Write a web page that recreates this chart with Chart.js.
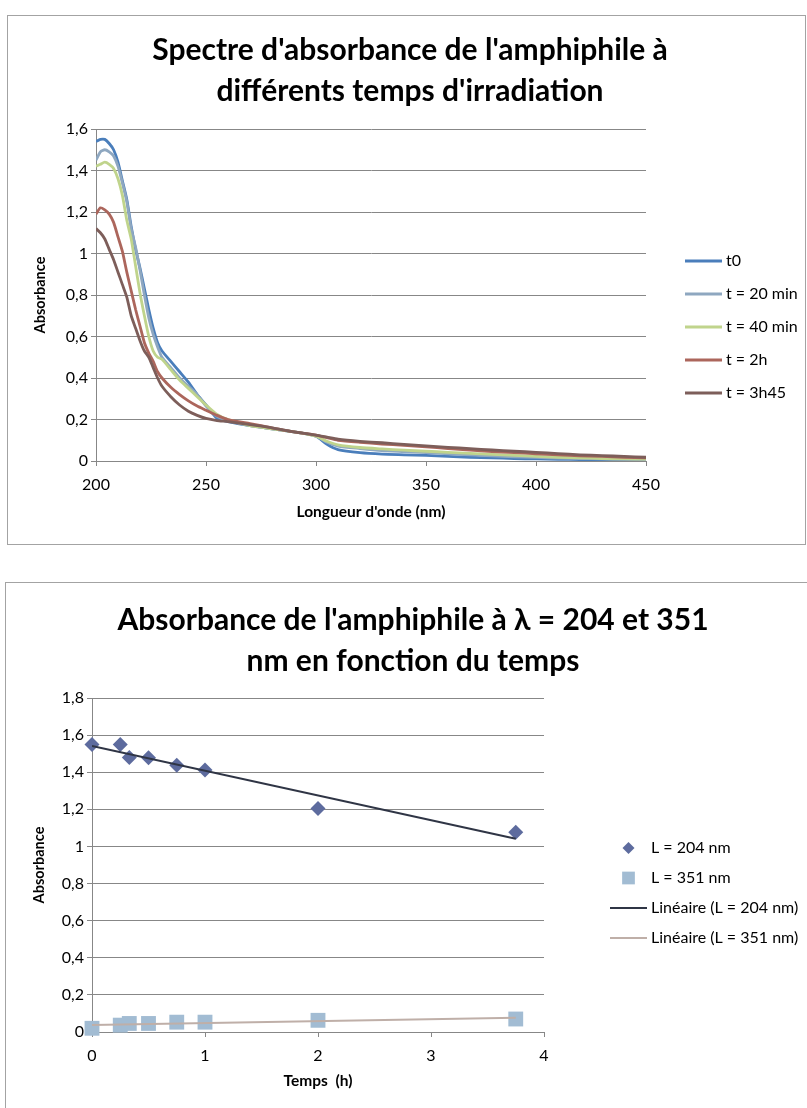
<!DOCTYPE html>
<html lang="fr">
<head>
<meta charset="utf-8">
<title>Absorbance de l'amphiphile</title>
<script src="https://cdn.jsdelivr.net/npm/chart.js@4.4.1/dist/chart.umd.min.js"></script>
<style>
  body { margin: 0; background: #fff; width: 807px; height: 1108px; position: relative; overflow: hidden; }
  .box { position: absolute; border: 1px solid #a3a3a3; box-sizing: border-box; }
  canvas { position: absolute; left: 0; }
</style>
</head>
<body>
<div class="box" style="left:7px; top:15px; width:799px; height:530px;"></div>
<div class="box" style="left:5px; top:582px; width:820px; height:560px;"></div>
<canvas id="spectre" width="807" height="560" style="top:0"></canvas>
<canvas id="cinetique" width="807" height="548" style="top:560px"></canvas>

<script>
// ---- spectres (longueur d'onde en nm, absorbance) ----
const wavelengths = [200, 202, 204, 206, 208, 210, 212, 214, 216, 218, 220, 222, 224, 226, 228, 230,
  234, 238, 242, 246, 250, 255, 260, 270, 280, 290, 300, 305, 310, 320, 330, 340, 350, 360,
  370, 380, 390, 400, 410, 420, 430, 440, 450];

const absT0 = [1.54, 1.55, 1.55, 1.53, 1.50, 1.44, 1.35, 1.26, 1.13, 1.02, 0.93, 0.83, 0.73, 0.64, 0.57, 0.53,
  0.48, 0.43, 0.38, 0.32, 0.27, 0.205, 0.19, 0.17, 0.155, 0.14, 0.12, 0.08, 0.055, 0.04, 0.033, 0.03, 0.027, 0.022,
  0.018, 0.015, 0.012, 0.01, 0.008, 0.007, 0.006, 0.005, 0.005];
const absT20 = [1.45, 1.49, 1.50, 1.49, 1.47, 1.42, 1.34, 1.25, 1.12, 1.03, 0.92, 0.80, 0.69, 0.61, 0.55, 0.50,
  0.45, 0.40, 0.36, 0.32, 0.265, 0.215, 0.195, 0.17, 0.155, 0.14, 0.12, 0.09, 0.072, 0.06, 0.05, 0.045, 0.04, 0.035,
  0.03, 0.025, 0.02, 0.017, 0.014, 0.012, 0.01, 0.008, 0.007];
const absT40 = [1.42, 1.43, 1.44, 1.43, 1.41, 1.36, 1.28, 1.16, 1.07, 0.94, 0.81, 0.70, 0.60, 0.53, 0.50, 0.49,
  0.44, 0.39, 0.35, 0.31, 0.27, 0.225, 0.20, 0.17, 0.155, 0.14, 0.12, 0.095, 0.078, 0.065, 0.058, 0.052, 0.047, 0.042,
  0.037, 0.032, 0.027, 0.022, 0.018, 0.015, 0.012, 0.01, 0.009];
const absT2h = [1.19, 1.22, 1.21, 1.19, 1.15, 1.08, 1.01, 0.91, 0.82, 0.73, 0.65, 0.57, 0.52, 0.48, 0.43, 0.40,
  0.355, 0.32, 0.29, 0.265, 0.245, 0.22, 0.20, 0.18, 0.16, 0.14, 0.125, 0.112, 0.10, 0.09, 0.082, 0.075, 0.068, 0.06,
  0.052, 0.045, 0.04, 0.035, 0.03, 0.025, 0.022, 0.018, 0.015];
const absT3h45 = [1.12, 1.10, 1.07, 1.02, 0.97, 0.91, 0.85, 0.79, 0.70, 0.64, 0.58, 0.53, 0.50, 0.45, 0.40, 0.36,
  0.31, 0.27, 0.24, 0.22, 0.205, 0.195, 0.19, 0.175, 0.16, 0.14, 0.125, 0.115, 0.105, 0.095, 0.088, 0.08, 0.073, 0.066,
  0.06, 0.053, 0.047, 0.042, 0.036, 0.03, 0.026, 0.022, 0.018];

const spectreLabels = ['t0', 't = 20 min', 't = 40 min', 't = 2h', 't = 3h45'];
const spectreValues = [absT0, absT20, absT40, absT2h, absT3h45];
const spectreColors = ['#4a7ebb', '#8ea7c0', '#c0d48c', '#ac665c', '#7d5e5a'];

// ---- cinétique (temps en h) ----
const times = [0, 0.25, 0.33, 0.5, 0.75, 1, 2, 3.75];
const abs204 = [1.55, 1.55, 1.48, 1.478, 1.437, 1.412, 1.205, 1.077];
const abs351 = [0.02, 0.037, 0.046, 0.046, 0.053, 0.053, 0.063, 0.07];

const FONT = 'Lato, "Open Sans", "DejaVu Sans", sans-serif';
const GRID = '#878787';

function virgule(v) {
  return String(Math.round(v * 10) / 10).replace('.', ',');
}

// droite des moindres carrés (courbe de tendance linéaire)
function tendance(xs, ys) {
  const n = xs.length;
  const mx = xs.reduce((a, b) => a + b, 0) / n;
  const my = ys.reduce((a, b) => a + b, 0) / n;
  let sxy = 0, sxx = 0;
  for (let i = 0; i < n; i++) {
    sxy += (xs[i] - mx) * (ys[i] - my);
    sxx += (xs[i] - mx) * (xs[i] - mx);
  }
  const a = sxy / sxx, b = my - a * mx;
  const x0 = xs[0], x1 = xs[n - 1];
  return [{ x: x0, y: a * x0 + b }, { x: x1, y: a * x1 + b }];
}

// titre centré sur tout le cadre (pas seulement sur la zone du graphique)
const titreCadre = {
  id: 'titreCadre',
  afterDraw(chart, args, opts) {
    const ctx = chart.ctx;
    ctx.save();
    ctx.font = opts.font;
    ctx.fillStyle = '#000';
    ctx.textAlign = 'center';
    ctx.textBaseline = 'middle';
    opts.text.forEach((ligne, i) => ctx.fillText(ligne, opts.x, opts.y + i * opts.lineHeight));
    ctx.restore();
  }
};

// légende à droite, dessinée à partir des datasets
const legendeCote = {
  id: 'legendeCote',
  afterDraw(chart, args, opts) {
    const ctx = chart.ctx;
    ctx.save();
    ctx.font = opts.font;
    ctx.textBaseline = 'middle';
    opts.items.forEach((idx, i) => {
      const ds = chart.data.datasets[idx];
      const y = opts.y + i * opts.gap;
      if (ds.showLine === false) {
        ctx.fillStyle = ds.backgroundColor;
        Chart.helpers.drawPoint(ctx, { pointStyle: ds.pointStyle, radius: ds.legendRadius, rotation: 0, borderWidth: 0 },
          opts.x + opts.lineLen / 2, y);
      } else {
        ctx.strokeStyle = ds.borderColor;
        ctx.lineWidth = ds.borderWidth;
        ctx.beginPath();
        ctx.moveTo(opts.x, y);
        ctx.lineTo(opts.x + opts.lineLen, y);
        ctx.stroke();
      }
      ctx.fillStyle = '#000';
      ctx.fillText(ds.label, opts.x + opts.lineLen + opts.textGap, y);
    });
    ctx.restore();
  }
};

function axeX(min, max, step, titre, hauteur) {
  return {
    type: 'linear', min: min, max: max,
    ticks: { stepSize: step, color: '#000', padding: 9, font: { family: FONT, size: 16 }, maxRotation: 0 },
    grid: { drawOnChartArea: false, color: GRID, tickLength: 5 },
    border: { color: GRID, width: 1 },
    title: { display: true, text: titre, color: '#000', padding: { top: 0, bottom: 4 },
      font: { family: FONT, size: 15.5, weight: 'bold' } },
    afterFit: s => { s.height = hauteur; s.paddingLeft = 0; s.paddingRight = 0; }
  };
}

function axeY(max, titre, largeur) {
  return {
    min: 0, max: max,
    ticks: { stepSize: 0.2, color: '#000', padding: 3, font: { family: FONT, size: 16 }, callback: virgule },
    grid: { color: GRID, tickLength: 5 },
    border: { color: GRID, width: 1 },
    title: { display: true, text: titre, color: '#000', padding: 0,
      font: { family: FONT, size: 14.5, weight: 'bold' } },
    afterFit: s => { s.width = largeur; s.paddingTop = 0; s.paddingBottom = 0; }
  };
}

// ---- graphique 1 : spectres ----
new Chart(document.getElementById('spectre'), {
  type: 'line',
  data: {
    datasets: spectreLabels.map((lab, i) => ({
      label: lab,
      data: wavelengths.map((w, j) => ({ x: w, y: spectreValues[i][j] })),
      borderColor: spectreColors[i],
      borderWidth: 2.8,
      pointRadius: 0,
      tension: 0.2,
      order: spectreLabels.length - i
    }))
  },
  options: {
    responsive: false,
    animation: false,
    devicePixelRatio: 1,
    layout: { padding: { left: 32, right: 161, top: 129, bottom: 35 } },
    scales: {
      x: axeX(200, 450, 50, "Longueur d'onde (nm)", 64),
      y: axeY(1.6, 'Absorbance', 64)
    },
    plugins: {
      legend: { display: false },
      tooltip: { enabled: false },
      title: { display: false },
      titreCadre: {
        text: ["Spectre d'absorbance de l'amphiphile à", "différents temps d'irradiation"],
        x: 410, y: 50, lineHeight: 41, font: 'bold 30px ' + FONT
      },
      legendeCote: { x: 685, y: 261, gap: 33, lineLen: 37, textGap: 4, font: '16px ' + FONT, items: [0, 1, 2, 3, 4] }
    }
  },
  plugins: [titreCadre, legendeCote]
});

// ---- graphique 2 : absorbance en fonction du temps ----
new Chart(document.getElementById('cinetique'), {
  type: 'scatter',
  data: {
    datasets: [
      {
        label: 'L = 204 nm',
        data: times.map((t, i) => ({ x: t, y: abs204[i] })),
        showLine: false, pointStyle: 'rectRot', pointRadius: 7.5, legendRadius: 6,
        backgroundColor: '#5d6b9e', borderWidth: 0, order: 2, clip: false
      },
      {
        label: 'L = 351 nm',
        data: times.map((t, i) => ({ x: t, y: abs351[i] })),
        showLine: false, pointStyle: 'rect', pointRadius: 10.5, legendRadius: 9,
        backgroundColor: '#a2bcd3', borderWidth: 0, order: 2, clip: false
      },
      {
        label: 'Linéaire (L = 204 nm)',
        data: tendance(times, abs204),
        showLine: true, pointRadius: 0, borderColor: '#2f3545', borderWidth: 2, order: 1
      },
      {
        label: 'Linéaire (L = 351 nm)',
        data: tendance(times, abs351),
        showLine: true, pointRadius: 0, borderColor: '#bfafa8', borderWidth: 2, order: 1
      }
    ]
  },
  options: {
    responsive: false,
    animation: false,
    devicePixelRatio: 1,
    layout: { padding: { left: 31, right: 263, top: 138, bottom: 14 } },
    scales: {
      x: axeX(0, 4, 1, 'Temps  (h)', 62),
      y: axeY(1.8, 'Absorbance', 61)
    },
    plugins: {
      legend: { display: false },
      tooltip: { enabled: false },
      title: { display: false },
      titreCadre: {
        text: ["Absorbance de l'amphiphile à λ = 204 et 351", 'nm en fonction du temps'],
        x: 413, y: 60, lineHeight: 41, font: 'bold 30px ' + FONT
      },
      legendeCote: { x: 610, y: 288, gap: 30, lineLen: 37, textGap: 4, font: '16px ' + FONT, items: [0, 1, 2, 3] }
    }
  },
  plugins: [titreCadre, legendeCote]
});
</script>
</body>
</html>
